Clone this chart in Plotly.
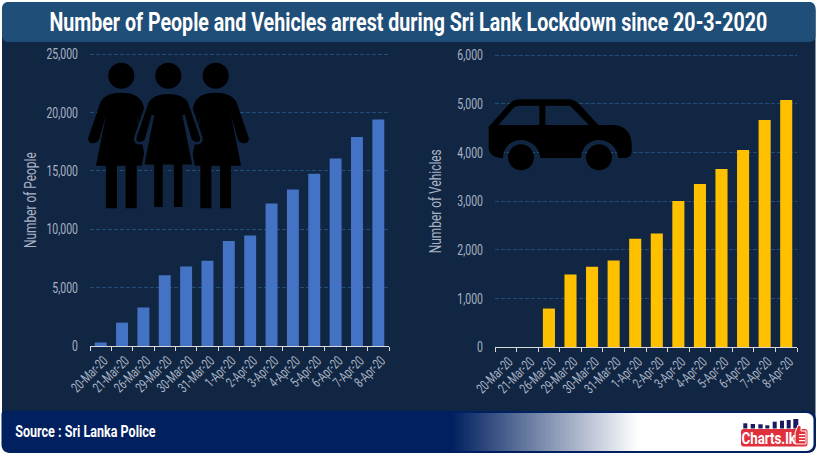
import re
import plotly.graph_objects as go

dates = ["20-Mar-20", "21-Mar-20", "26-Mar-20", "29-Mar-20", "30-Mar-20", "31-Mar-20", "1-Apr-20",
         "2-Apr-20", "3-Apr-20", "4-Apr-20", "5-Apr-20", "6-Apr-20", "7-Apr-20", "8-Apr-20"]
people = [300, 2000, 3300, 6050, 6800, 7300, 9000, 9450, 12200, 13400, 14750, 16050, 17900, 19400]
vehicles = [0, 0, 790, 1490, 1650, 1775, 2225, 2330, 3000, 3350, 3660, 4050, 4665, 5075]

TITLE = "Number of People and Vehicles arrest during Sri Lank Lockdown since 20-3-2020"
SOURCE = "Source : Sri Lanka Police"
YTITLE_LEFT = "Number of People"
YTITLE_RIGHT = "Number of Vehicles"
W, H = 820, 456
FONT = "Roboto"
BG = "#112642"
HEAD = "#1f4e79"
NAVY = "#002060"
TICK = "#a9b4c6"
BLACK = "#000000"


def px(v):
    return v / W


def py(v):
    return 1 - v / H


def path(d, ox=0, oy=0, s=1.0):
    """Convert a path in pixel space to paper space."""
    toks = re.findall(r"[MLCZ]|-?\d+\.?\d*", d)
    out, isx = [], True
    for t in toks:
        if t in "MLCZ":
            out.append(t)
            isx = True
        else:
            v = float(t)
            if isx:
                out.append(f"{px(ox + v * s):.5f}")
            else:
                out.append(f"{py(oy + v * s):.5f}")
            isx = not isx
    return " ".join(out)


def rrect(x0, y0, x1, y1, r=None, tl=0, tr=0, br=0, bl=0):
    if r is not None:
        tl = tr = br = bl = r
    k = 0.45
    return (f"M {x0 + tl} {y0} L {x1 - tr} {y0} C {x1 - tr * k} {y0} {x1} {y0 + tr * k} {x1} {y0 + tr} "
            f"L {x1} {y1 - br} C {x1} {y1 - br * k} {x1 - br * k} {y1} {x1 - br} {y1} "
            f"L {x0 + bl} {y1} C {x0 + bl * k} {y1} {x0} {y1 - bl * k} {x0} {y1 - bl} "
            f"L {x0} {y0 + tl} C {x0} {y0 + tl * k} {x0 + tl * k} {y0} {x0 + tl} {y0} Z")


shapes = []


def add_path(d, fill, layer="above", line=None, lw=0, **kw):
    shapes.append(dict(type="path", path=path(d, **kw), xref="paper", yref="paper", fillcolor=fill,
                       layer=layer, line=dict(color=line or fill, width=lw)))


def add_rect(x0, y0, x1, y1, fill, layer="above"):
    shapes.append(dict(type="rect", xref="paper", yref="paper", x0=px(x0), x1=px(x1), y0=py(y0), y1=py(y1),
                       fillcolor=fill, line=dict(width=0), layer=layer))


def add_circle(cx, cy, r, fill):
    shapes.append(dict(type="circle", xref="paper", yref="paper", x0=px(cx - r), x1=px(cx + r), y0=py(cy + r),
                       y1=py(cy - r), fillcolor=fill, line=dict(width=0)))


# panel, header, footer
add_path(rrect(2, 6, 815.5, 420, r=4), BG, "below")
add_path(rrect(1.5, 411, 816, 453, tl=3, tr=8, br=8, bl=8), NAVY, "below")
add_path(rrect(2, 2, 815.5, 42, r=6), HEAD, "below")
# footer gradient into white
GX0, GX1 = 452, 638
add_path(rrect(630, 413, 813.5, 451, tl=0, tr=7, br=7, bl=0), "#ffffff", "below")
n = (GX1 - GX0) // 3
for i in range(n):
    t = (i + 0.5) / n
    c = f"rgb({int(0 + 255 * t)},{int(32 + 223 * t)},{int(96 + 159 * t)})"
    add_rect(GX0 + i * 3, 413, GX0 + (i + 1) * 3, 451, c, "below")

# logo
for x0, x1, top in [(743.3, 747.3, 423.3), (750.7, 755, 424), (758.3, 762.7, 424.3), (765.3, 769.3, 425.3),
                    (772.7, 776.7, 421.7), (780, 784, 420.7), (786.7, 790.7, 420), (793.3, 798.3, 419)]:
    add_rect(x0, top, x1, 428.5, "#1a1a5e")
add_path(rrect(741, 429, 807.5, 446.5, r=2.5), "#e0303c")
add_path("M 795 433 L 798 425 L 801 426 L 801 431 L 806 431 L 806 444 L 795 444 Z", "#e0303c",
         line="#ffffff", lw=1)
add_rect(799, 434, 805, 435.2, "#ffffff")
add_rect(799, 437, 805, 438.2, "#ffffff")
add_rect(799, 440, 805, 441.2, "#ffffff")

# people pictogram, local coordinates are 3x pixels with the figure centre at 124
PERSON = ("M 124 113 C 155 113 175 122 186 140 L 223 248 C 226 265 205 272 191 255 L 170 180 L 200 332 "
          "L 170 332 L 170 460 L 137 460 L 137 332 L 111 332 L 111 460 L 78 460 L 78 332 L 48 332 "
          "L 78 180 L 57 255 C 43 272 22 265 25 248 L 62 140 C 73 122 93 113 124 113 Z")
for cx, outline in [(121.3, False), (215.7, False), (168.3, True)]:
    add_path(PERSON, BLACK, ox=cx - 124 / 3, oy=55, s=1 / 3, line=BG if outline else BLACK, lw=2.5 if outline else 0)
    add_circle(cx, 75.7, 13, BLACK)

# car pictogram, local coordinates are 3x pixels
CAR = ("M 26 110 L 90 40 C 100 30 110 28 120 28 L 265 28 C 280 28 290 35 300 45 L 355 105 L 400 105 "
       "C 435 105 455 130 455 165 L 455 185 C 455 198 445 204 430 204 L 415 204 "
       "C 412 170 385 150 357 150 C 330 150 304 170 303 204 L 181 204 "
       "C 178 170 150 150 123 150 C 95 150 70 170 69 204 L 60 204 C 40 200 26 190 26 170 Z "
       "M 55 105 L 178 105 L 178 47 L 120 47 C 110 47 105 50 100 55 Z "
       "M 196 105 L 327 105 L 270 47 L 196 47 Z")
add_path(CAR, BLACK, ox=480, oy=90, s=1 / 3)
add_circle(480 + 123 / 3, 90 + 202 / 3, 13, BLACK)
add_circle(480 + 357 / 3, 90 + 202 / 3, 13, BLACK)

fig = go.Figure()
fig.add_bar(x=dates, y=people, marker=dict(color="#4472c4", line=dict(width=0)), xaxis="x", yaxis="y",
            showlegend=False)
fig.add_bar(x=dates, y=vehicles, marker=dict(color="#ffc000", line=dict(width=0)), xaxis="x2", yaxis="y2",
            showlegend=False)


def xaxis(d0, d1, anchor):
    return dict(domain=[px(d0), px(d1)], anchor=anchor, type="category", tickson="boundaries", ticks="outside",
                ticklen=4, tickwidth=1, tickcolor="#d9d9d9", showline=True, linecolor="#d9d9d9", linewidth=1,
                showgrid=False, tickangle=-45, tickfont=dict(family=FONT, size=14, color=TICK), automargin=False,
                ticklabelshift=3, categoryorder="array", categoryarray=dates)


def yaxis(d0, d1, anchor, top, dtick):
    # Plotly drops a gridline sitting on the end of the range, so the axis runs 2 px past the top tick.
    pad = 2
    return dict(domain=[py(d0), py(d1 - pad)], anchor=anchor, range=[0, top * (1 + pad / (d0 - d1))], dtick=dtick,
                tickformat=",", showline=False, zeroline=False, showgrid=True, gridcolor="#1f4e79",
                griddash="4px,2px", gridwidth=1, ticks="", tickfont=dict(family=FONT, size=15, color=TICK),
                ticklabelstandoff=11, automargin=False)


annotations = [
    dict(text=f"<b>{TITLE}</b>", xref="paper", yref="paper", x=px(408.5), y=py(23), showarrow=False,
         xanchor="center", yanchor="middle", font=dict(family=FONT, size=25, color="#ffffff")),
    dict(text=f"<b>{SOURCE}</b>", xref="paper", yref="paper", x=px(85.5), y=py(431.5), showarrow=False,
         xanchor="center", yanchor="middle", font=dict(family=FONT, size=16, color="#ffffff")),
    dict(text="<b>Charts.lk</b>", xref="paper", yref="paper", x=px(768.5), y=py(438), showarrow=False,
         xanchor="center", yanchor="middle", font=dict(family=FONT, size=17, color="#ffffff")),
    dict(text=YTITLE_LEFT, xref="paper", yref="paper", x=px(30.5), y=py(200), showarrow=False, textangle=-90,
         xanchor="center", yanchor="middle", font=dict(family=FONT, size=17, color=TICK)),
    dict(text=YTITLE_RIGHT, xref="paper", yref="paper", x=px(435.5), y=py(201), showarrow=False, textangle=-90,
         xanchor="center", yanchor="middle", font=dict(family=FONT, size=17, color=TICK)),
]

fig.update_layout(
    width=W, height=H, margin=dict(l=0, r=0, t=0, b=0, autoexpand=False), autosize=False,
    paper_bgcolor="#ffffff", plot_bgcolor="rgba(0,0,0,0)", bargap=0.44, showlegend=False,
    xaxis=xaxis(90, 389, "y"), yaxis=yaxis(346, 54, "x", 25000, 5000),
    xaxis2=xaxis(495, 797, "y2"), yaxis2=yaxis(347, 55, "x2", 6000, 1000),
    shapes=shapes, annotations=annotations,
)

# The reference uses a condensed typeface and none is installed: narrow each real text about its own anchor.
PAGE_JS = """
document.body.style.margin = '0';
document.querySelectorAll('.main-svg text').forEach(function (t) {
  var bold = t.querySelector('b, tspan[style*="bold"]') !== null;
  var s = bold ? 0.785 : 0.7;
  var x = parseFloat(t.getAttribute('x')) || 0, y = parseFloat(t.getAttribute('y')) || 0;
  var tr = t.getAttribute('transform') || '';
  t.setAttribute('transform', tr + ' translate(' + x + ' ' + y + ') scale(' + s + ' 1) translate(' + (-x) + ' ' + (-y) + ')');
});
"""
fig.write_html("out.html", post_script=PAGE_JS, config={"displayModeBar": False, "staticPlot": True})
